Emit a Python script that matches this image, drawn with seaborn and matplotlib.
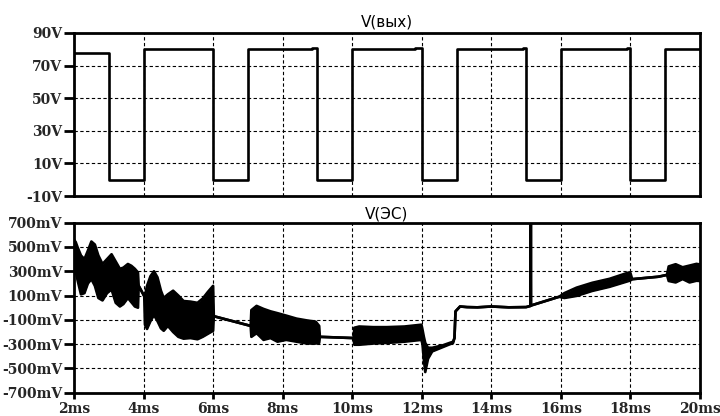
import numpy as np
import pandas as pd
import matplotlib
matplotlib.use("Agg")
import matplotlib.pyplot as plt
import seaborn as sns

# ---- data ----
# V(вых): square wave, step levels (steps-post)
out_t = [2.0, 3.0, 4.0, 6.0, 7.0, 8.85, 9.0, 10.0, 11.8, 12.0, 13.0, 14.9, 15.0, 16.0, 17.9, 18.0, 19.0, 20.0]
out_v = [78.0, 0.0, 80.0, 0.0, 80.0, 81.0, 0.0, 80.0, 81.0, 0.0, 80.0, 80.6, 0.0, 80.0, 80.6, 0.0, 80.0, 80.0]

# V(ЭС): upper / lower envelope of the noisy trace (mV)
es_t = [2.00, 2.05, 2.10, 2.20, 2.30, 2.40, 2.50, 2.60, 2.70, 2.82, 2.95, 3.08, 3.20, 3.32, 3.42,
        3.55, 3.65, 3.75, 3.84, 3.86, 4.02,
        4.04, 4.10, 4.20, 4.30, 4.40, 4.50, 4.58, 4.70, 4.85, 5.00, 5.15, 5.35, 5.55, 5.70, 5.85, 6.00,
        6.02, 7.08,
        7.10, 7.25, 7.45, 7.65, 7.85, 8.10, 8.40, 8.70, 8.95, 9.05, 9.07, 10.04,
        10.06, 10.20, 10.60, 11.00, 11.50, 11.99, 12.02, 12.06, 12.10, 12.18, 12.30, 12.60, 12.90,
        12.94, 12.97, 13.10, 13.30, 13.60, 14.00, 14.50, 15.00, 15.13, 15.135, 15.14, 15.50, 15.95,
        16.10, 16.45, 16.90, 17.40, 17.95, 18.00, 18.05, 18.80, 19.05,
        19.10, 19.30, 19.50, 19.70, 19.90, 20.00]
es_hi = [560, 540, 500, 430, 400, 470, 545, 520, 430, 360, 400, 440, 380, 320, 330,
         360, 345, 320, 290, 180, 95,
         100, 180, 260, 300, 250, 140, 80, 110, 140, 100, 55, 50, 40, 75, 130, 180,
         -70, -150,
         -20, 15, -10, -30, -45, -65, -90, -105, -115, -150, -240, -250,
         -165, -155, -160, -160, -155, -140, -180, -240, -290, -330, -330, -310, -280,
         -250, -30, 10, 5, 3, 10, 3, 5, 15, 800, 18, 50, 90,
         120, 165, 205, 238, 290, 285, 235, 255, 270,
         340, 358, 333, 347, 361, 356]
es_lo = [340, 300, 230, 110, 120, 200, 235, 180, 80, 60, 120, 150, 40, 10, 30,
         80, 45, 10, 0, 180, 95,
         -140, -175, -110, -60, -110, -170, -190, -150, -200, -240, -255, -250, -260, -240, -215, -190,
         -70, -150,
         -240, -210, -265, -250, -280, -265, -280, -295, -295, -290, -240, -250,
         -305, -305, -295, -290, -280, -265, -300, -430, -530, -420, -360, -325, -290,
         -250, -30, 10, 5, 3, 10, 3, 5, 15, 800, 18, 50, 90,
         80, 97, 138, 172, 220, 225, 235, 255, 270,
         220, 208, 236, 208, 222, 220]

top_yticks = [-10, 10, 30, 50, 70, 90]
bot_yticks = [-700, -500, -300, -100, 100, 300, 500, 700]
xticks = [2, 4, 6, 8, 10, 12, 14, 16, 18, 20]

top_title = "V(вых)"
bot_title = "V(ЭС)"

# ---- style ----
sns.set_theme(style="white")
plt.rcParams["font.family"] = ["DejaVu Sans"]

W, H = 720, 416
fig = plt.figure(figsize=(W / 100, H / 100), dpi=100)
fig.patch.set_facecolor("white")
ax1 = fig.add_axes([74 / W, 1 - 196 / H, 626 / W, 163 / H])
ax2 = fig.add_axes([74 / W, 1 - 392.7 / H, 626 / W, 170 / H])

LW = 1.9
df_out = pd.DataFrame({"t": out_t, "v": out_v})
sns.lineplot(data=df_out, x="t", y="v", ax=ax1, color="black", lw=LW,
             drawstyle="steps-post", estimator=None, sort=False, zorder=3)

df_es = pd.DataFrame({"t": es_t, "hi": es_hi, "lo": es_lo})
ax2.fill_between(df_es["t"], df_es["lo"], df_es["hi"], color="black", lw=0, zorder=3)
sns.lineplot(data=df_es, x="t", y="hi", ax=ax2, color="black", lw=LW,
             estimator=None, sort=False, zorder=3)
sns.lineplot(data=df_es, x="t", y="lo", ax=ax2, color="black", lw=LW,
             estimator=None, sort=False, zorder=3)

tickfont = dict(family="DejaVu Serif", weight="bold", size=10)

for ax in (ax1, ax2):
    ax.set_xlim(2, 20)
    ax.set_xticks(xticks)
    ax.set_xlabel("")
    ax.set_ylabel("")
    ax.grid(True, color="black", linestyle=(0, (3, 2.2)), lw=0.8)
    ax.set_axisbelow(True)
    for s in ax.spines.values():
        s.set_visible(True)
        s.set_color("black")
        s.set_linewidth(2.0)
    ax.set_facecolor("white")

ax1.set_ylim(-10, 90)
ax1.set_yticks(top_yticks)
ax1.set_yticklabels([f"{v}V" for v in top_yticks], fontdict=tickfont)
ax1.tick_params(axis="x", length=0, labelbottom=False)
ax1.tick_params(axis="y", direction="out", length=7, width=2, pad=1.5, color="black", left=True)
ax1.set_title(top_title, fontsize=11, pad=5, color="black")

ax2.set_ylim(-700, 700)
ax2.set_yticks(bot_yticks)
ax2.set_yticklabels([f"{v}mV" for v in bot_yticks], fontdict=tickfont)
ax2.set_xticklabels([f"{v}ms" for v in xticks], fontdict=tickfont)
ax2.tick_params(axis="y", direction="out", length=7, width=2, pad=1.5, color="black", left=True)
ax2.tick_params(axis="x", direction="out", length=4.5, width=2, pad=2.5, color="black", bottom=True)
ax2.set_title(bot_title, fontsize=11, pad=3, color="black")

fig.savefig("out.png", dpi=100, facecolor="white")
